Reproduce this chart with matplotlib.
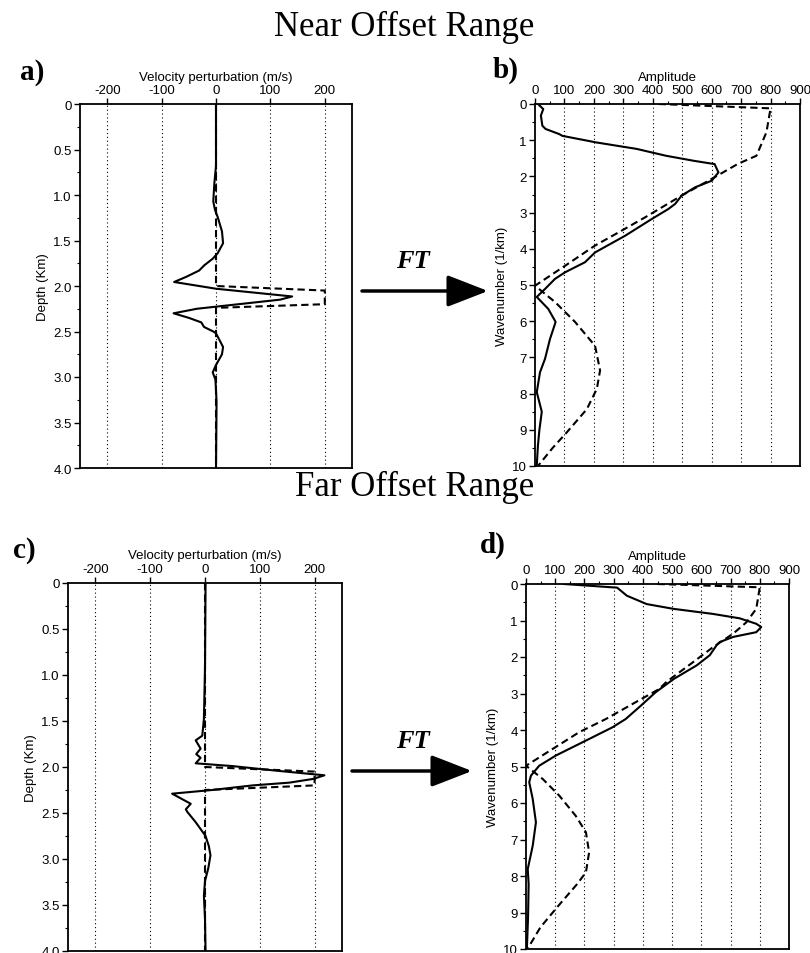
import matplotlib
matplotlib.use('Agg')
import matplotlib.pyplot as plt
from matplotlib.ticker import MultipleLocator

W, H = 810, 954

# ---- data ----
# a) near offset: velocity perturbation vs depth
a_true_depth = [0, 2.0, 2.05, 2.2, 2.24, 4.0]
a_true_vel = [0, 0, 200, 200, 0, 0]
a_inv_depth = [0, 0.68, 0.87, 1.07, 1.16, 1.24, 1.40, 1.53, 1.64, 1.70, 1.77, 1.83, 1.90,
               1.956, 2.0, 2.03, 2.115, 2.15, 2.25, 2.30, 2.35, 2.40, 2.45, 2.50, 2.52,
               2.67, 2.75, 2.88, 2.95, 3.03, 3.27, 4.0]
a_inv_vel = [0, 0, -3, -5, -2, 3, 11, 13, 3, -6, -21, -31, -55,
             -77, -31, 0, 140, 118, -35, -78, -50, -27, -22, -5, 0,
             13, 11, -1, -6, -1, 1, 0]

# b) near offset: amplitude spectra
b_inv_k = [0, 0.14, 0.32, 0.6, 0.69, 0.83, 0.88, 1.06, 1.24, 1.43, 1.57, 1.66, 1.89, 2.12,
           2.30, 2.53, 2.76, 2.90, 3.18, 3.64, 4.1, 4.37, 4.65, 4.83, 5.11, 5.33, 5.66,
           6.02, 6.22, 6.49, 7.04, 7.41, 7.96, 8.5, 9.0, 9.43, 9.98]
b_inv_amp = [10, 28, 20, 25, 36, 82, 93, 207, 345, 445, 540, 610, 623, 600,
             544, 498, 476, 453, 396, 306, 204, 170, 102, 68, 34, 6, 45,
             70, 62, 51, 34, 17, 6, 23, 15, 10, 6]
b_true_k = [0, 0.12, 0.78, 1.43, 1.65, 2.12, 2.53, 3.13, 3.5, 3.91, 4.47, 5.02, 5.47,
            6.02, 6.68, 7.36, 7.87, 8.43, 9.07, 9.5, 10]
b_true_amp = [420, 800, 786, 752, 690, 589, 498, 374, 294, 204, 102, 0, 68,
              136, 204, 221, 210, 176, 108, 60, 10]

# c) far offset: velocity perturbation vs depth
c_true_depth = [0, 2.0, 2.05, 2.2, 2.25, 4.0]
c_true_vel = [0, 0, 200, 200, 0, 0]
c_inv_depth = [0, 0.93, 1.48, 1.66, 1.71, 1.8, 1.86, 1.9, 1.96, 1.99, 2.04, 2.09, 2.13,
               2.17, 2.2, 2.25, 2.29, 2.4, 2.46, 2.49, 2.6, 2.75, 2.86, 2.96, 3.1, 3.24,
               3.4, 3.65, 4.0]
c_inv_vel = [1, 0, -2, -5, -17, -8, -16, -8, -17, 50, 130, 218, 197,
             154, 87, 13, -60, -26, -35, -32, -17, 1, 7, 10, 6, 0,
             -2, 0, 1]

# d) far offset: amplitude spectra
d_inv_k = [0, 0.1, 0.32, 0.55, 0.68, 0.82, 0.94, 1.09, 1.18, 1.32, 1.45, 1.59, 1.68, 1.95,
           2.23, 2.6, 2.97, 3.32, 3.7, 3.93, 4.29, 4.7, 4.98, 5.25, 5.43, 5.89, 6.53,
           7.17, 7.81, 8.23, 9.14, 10]
d_inv_amp = [130, 312, 345, 413, 504, 640, 731, 788, 805, 788, 709, 663, 652, 629,
             584, 506, 443, 395, 341, 295, 205, 102, 45, 17, 11, 23, 34,
             23, 6, 9, 7, 3]
d_true_k = [0, 0.09, 0.68, 1.05, 1.36, 1.73, 2.14, 2.68, 2.88, 3.24, 3.70, 4.06, 4.52,
            4.98, 5.34, 5.80, 6.35, 6.80, 7.35, 7.90, 8.23, 8.86, 9.41, 10]
d_true_amp = [450, 800, 788, 754, 709, 640, 572, 481, 455, 375, 273, 182, 91,
              0, 57, 114, 170, 205, 216, 205, 174, 106, 49, 5]

vel_ticks = [-200, -100, 0, 100, 200]
depth_ticks = [0, 0.5, 1.0, 1.5, 2.0, 2.5, 3.0, 3.5, 4.0]
depth_labels = ['0', '0.5', '1.0', '1.5', '2.0', '2.5', '3.0', '3.5', '4.0']
amp_ticks = [0, 100, 200, 300, 400, 500, 600, 700, 800, 900]
k_ticks = list(range(0, 11))

sans = ['Liberation Sans', 'DejaVu Sans']
serif = ['Liberation Serif', 'DejaVu Serif']
plt.rcParams['font.family'] = sans
plt.rcParams['axes.unicode_minus'] = False


def px_axes(fig, left, top, right, bottom):
    return fig.add_axes([left / W, 1 - bottom / H, (right - left) / W, (bottom - top) / H])


def style(ax):
    ax.xaxis.set_ticks_position('top')
    ax.xaxis.set_label_position('top')
    ax.invert_yaxis()
    for s in ax.spines.values():
        s.set_linewidth(1.3)
    ax.tick_params(which='major', length=4, width=1, labelsize=9.5, pad=2)
    ax.tick_params(which='minor', length=2.5, width=0.8)
    ax.tick_params(axis='y', which='both', right=False)


fig = plt.figure(figsize=(W / 100, H / 100), dpi=100)

lw = 1.5
dash = (0, (3.5, 2))

# velocity panels
for (l, t, r, b), dt, vt, di, vi in [((80, 105, 352, 469), a_true_depth, a_true_vel, a_inv_depth, a_inv_vel),
                                    ((68, 584, 342, 952), c_true_depth, c_true_vel, c_inv_depth, c_inv_vel)]:
    ax = px_axes(fig, l, t, r, b)
    for v in vel_ticks:
        ax.axvline(v, color='k', lw=0.8, ls=(0, (1, 2.5)), zorder=1)
    ax.plot(vt, dt, color='k', lw=lw, ls=dash, zorder=3)
    ax.plot(vi, di, color='k', lw=lw, zorder=4)
    ax.set_xlim(-250, 250)
    ax.set_ylim(0, 4.0)
    ax.set_xticks(vel_ticks)
    ax.set_yticks(depth_ticks)
    ax.set_yticklabels(depth_labels)
    ax.yaxis.set_minor_locator(MultipleLocator(0.25))
    style(ax)
    ax.set_xlabel('Velocity perturbation (m/s)', fontsize=9.5, labelpad=3)
    ax.set_ylabel('Depth (Km)', fontsize=9.5, labelpad=3)

# amplitude panels
for (l, t, r, b), kt, at, ki, ai in [((535, 105, 800, 467), b_true_k, b_true_amp, b_inv_k, b_inv_amp),
                                    ((526, 585, 789, 950), d_true_k, d_true_amp, d_inv_k, d_inv_amp)]:
    ax = px_axes(fig, l, t, r, b)
    for v in amp_ticks[1:-1]:
        ax.axvline(v, color='k', lw=0.8, ls=(0, (1, 2.5)), zorder=1)
    ax.plot(at, kt, color='k', lw=lw, ls=dash, zorder=3)
    ax.plot(ai, ki, color='k', lw=lw, zorder=4)
    ax.set_xlim(0, 900)
    ax.set_ylim(0, 10)
    ax.set_xticks(amp_ticks)
    ax.set_yticks(k_ticks)
    ax.xaxis.set_minor_locator(MultipleLocator(50))
    ax.yaxis.set_minor_locator(MultipleLocator(0.5))
    style(ax)
    ax.set_xlabel('Amplitude', fontsize=9.5, labelpad=3)
    ax.set_ylabel('Wavenumber (1/km)', fontsize=9.5, labelpad=3)

# titles and panel letters
fig.text(404 / W, 1 - 27 / H, 'Near Offset Range', family=serif, fontsize=25,
         ha='center', va='center')
fig.text(415 / W, 1 - 487 / H, 'Far Offset Range', family=serif, fontsize=25,
         ha='center', va='center')
for x, y, s in [(20, 72, 'a)'), (493, 70, 'b)'), (13, 551, 'c)'), (480, 545, 'd)')]:
    fig.text(x / W, 1 - y / H, s, family=serif, fontsize=21, fontweight='bold',
             ha='left', va='center')

# FT arrows
for x0, x1, y, ty in [(362, 488, 292, 262), (352, 472, 772, 741)]:
    fig.text(413 / W, 1 - ty / H, 'FT', family=serif, fontsize=19, fontweight='bold',
             style='italic', ha='center', va='center')
    fig.add_artist(matplotlib.patches.FancyArrowPatch(
        (x0 / W, 1 - y / H), (x1 / W, 1 - y / H), transform=fig.transFigure,
        arrowstyle='-|>,head_length=1.8,head_width=0.7', mutation_scale=14,
        lw=2.5, color='k', shrinkA=0, shrinkB=0))

fig.savefig('out.png', dpi=100)
